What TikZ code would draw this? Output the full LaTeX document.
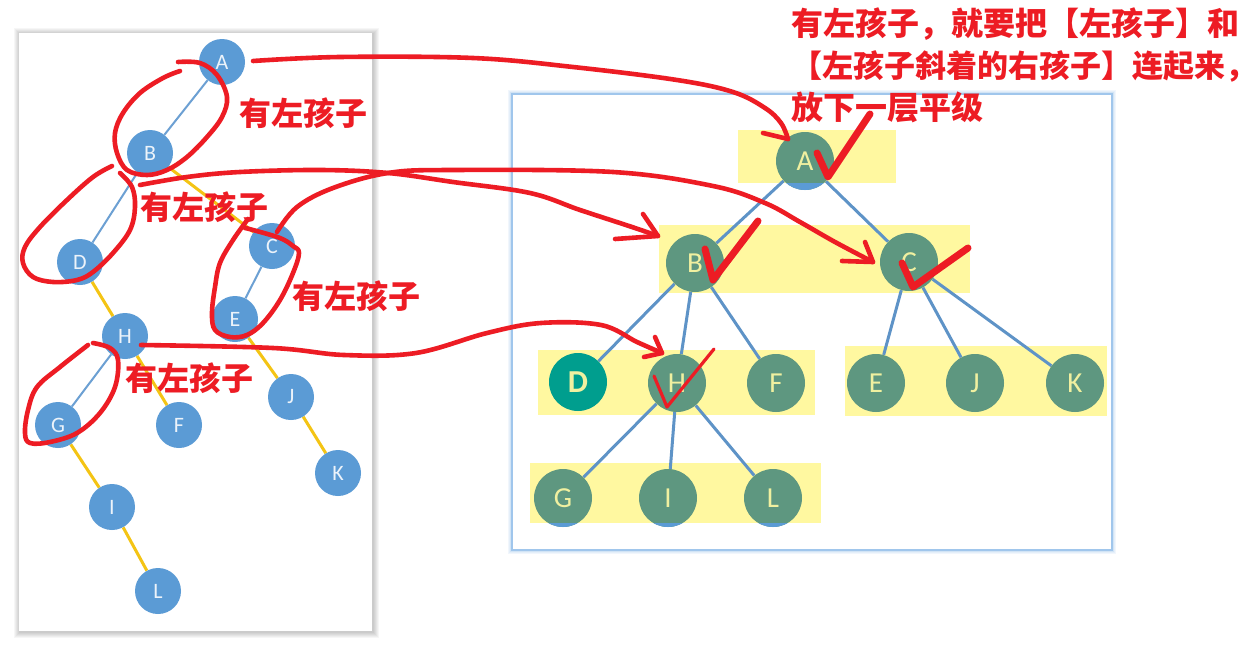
\documentclass[tikz,border=0pt]{standalone}
\usepackage{fontspec}
\setmainfont{Carlito}
\newfontfamily\cjk{Noto Sans CJK SC}
\definecolor{lblue}{RGB}{91,155,213}
\definecolor{ltext}{RGB}{236,243,250}
\definecolor{ledgeblue}{RGB}{108,160,211}
\definecolor{ledgeyellow}{RGB}{244,196,20}
\definecolor{rgreen}{RGB}{94,151,128}
\definecolor{rtext}{RGB}{240,240,160}
\definecolor{redgeblue}{RGB}{94,147,199}
\definecolor{hyellow}{RGB}{255,248,160}
\definecolor{dteal}{RGB}{0,158,142}
\definecolor{hred}{RGB}{237,28,36}
\definecolor{panelblue}{RGB}{160,198,236}
\pgfdeclarelayer{bgg}
\pgfdeclarelayer{bg}
\pgfsetlayers{bgg,bg,main}
\tikzset{
  lnode/.style={circle, fill=lblue, minimum size=46pt, inner sep=0pt, text=ltext, font=\fontsize{22}{22}\selectfont},
  rnode/.style={circle, fill=rgreen, minimum size=58pt, inner sep=0pt, text=rtext, font=\fontsize{29}{29}\selectfont},
  dnode/.style={circle, fill=dteal, minimum size=58pt, inner sep=0pt, text=rtext, font=\bfseries\fontsize{32}{32}\selectfont},
  lbl/.style={line width=2pt, draw=ledgeblue},
  lyl/.style={line width=3pt, draw=ledgeyellow},
  redge/.style={line width=3pt, draw=redgeblue},
  hbox/.style={fill=hyellow},
  redline/.style={draw=hred, line width=4.6pt, line cap=round, line join=round},
  checkmark/.style={draw=hred, line width=7pt, line cap=round, line join=round},
  redtext/.style={font=\cjk\bfseries\fontsize{32}{32}\selectfont, text=hred, inner sep=0pt},
}
\begin{document}
\begin{tikzpicture}[x=1pt,y=-1pt]
\useasboundingbox (0,0) rectangle (1258,645);
\begin{pgfonlayer}{bgg}
\fill[white] (0,0) rectangle (1258,645);
% left panel shadow
\foreach \i in {1,...,6} {
  \fill[black, opacity=0.035] ({19-\i+1},{33-\i+1}) rectangle ({372+\i+1},{631+\i+1});
}
\fill[white] (19,33) rectangle (372,631);
% right panel glow
\foreach \i in {1,...,5} {
  \draw[panelblue, opacity=0.14, line width=\i*1.6pt] (512,94) rectangle (1112,550);
}
\fill[white] (512,94) rectangle (1112,550);
\draw[panelblue, line width=1.6pt] (512,94) rectangle (1112,550);
% yellow highlight bands
\fill[hbox] (738,130) rectangle (896,183);
\fill[hbox] (659,225) rectangle (970,293);
\fill[hbox] (538,350) rectangle (815,415);
\fill[hbox] (845,346) rectangle (1107,416);
\fill[hbox] (530,463) rectangle (821,523);
\end{pgfonlayer}

% left tree
\node[lnode] (lA) at (222,62) {A};
\node[lnode] (lB) at (150,153) {B};
\node[lnode] (lC) at (272,246) {C};
\node[lnode] (lD) at (80,262) {D};
\node[lnode] (lE) at (235,319) {E};
\node[lnode] (lH) at (125,336) {H};
\node[lnode] (lG) at (58,425) {G};
\node[lnode] (lF) at (179,425) {F};
\node[lnode] (lJ) at (291,397) {J};
\node[lnode] (lK) at (338,473) {K};
\node[lnode] (lI) at (112,507) {I};
\node[lnode] (lL) at (158,591) {L};

% right tree
\node[rnode] (rA) at (805,161) {A};
\node[rnode] (rB) at (695,263) {B};
\node[rnode] (rC) at (909,262) {C};
\node[dnode] (rD) at (578,382) {D};
\node[rnode] (rH) at (677,383) {H};
\node[rnode] (rF) at (776,383) {F};
\node[rnode] (rE) at (876,383) {E};
\node[rnode] (rJ) at (975,383) {J};
\node[rnode] (rK) at (1075,383) {K};
\node[rnode] (rG) at (563,498) {G};
\node[rnode] (rI) at (668,498) {I};
\node[rnode] (rL) at (773,498) {L};

% blue parts of nodes outside the yellow bands
\begin{scope}
  \clip (700,183) rectangle (900,200);
  \fill[lblue] (rA.center) circle (29pt);
\end{scope}
\begin{scope}
  \clip (520,523) rectangle (830,540);
  \fill[lblue] (rG.center) circle (29pt);
  \fill[lblue] (rI.center) circle (29pt);
  \fill[lblue] (rL.center) circle (29pt);
\end{scope}

\begin{pgfonlayer}{bg}
\draw[lbl] (lA) -- (lB);
\draw[lbl] (lB) -- (lD);
\draw[lyl] (lB) -- (lC);
\draw[lbl] (lC) -- (lE);
\draw[lyl] (lD) -- (lH);
\draw[lyl] (lE) -- (lJ);
\draw[lyl] (lJ) -- (lK);
\draw[lbl] (lH) -- (lG);
\draw[lyl] (lH) -- (lF);
\draw[lyl] (lG) -- (lI);
\draw[lyl] (lI) -- (lL);

\draw[redge] (rA) -- (rB);
\draw[redge] (rA) -- (rC);
\draw[redge] (rB) -- (rD);
\draw[redge] (rB) -- (rH);
\draw[redge] (rB) -- (rF);
\draw[redge] (rC) -- (rE);
\draw[redge] (rC) -- (rJ);
\draw[redge] (rC) -- (rK);
\draw[redge] (rH) -- (rG);
\draw[redge] (rH) -- (rI);
\draw[redge] (rH) -- (rL);
\end{pgfonlayer}

% red loops
\draw[redline] plot[smooth, tension=0.6] coordinates {(178,62) (200,63) (217,75) (227,97) (222,117) (207,137) (187,157) (167,170) (147,175) (127,170) (117,153) (115,133) (123,113) (140,93) (163,78) (180,71)};
\draw[redline] plot[smooth, tension=0.6] coordinates {(112,166) (93,177) (67,200) (40,227) (25,247) (23,263) (33,277) (53,282) (77,280) (93,272) (113,253) (130,230) (135,207) (132,187) (120,173)};
\draw[redline] plot[smooth, tension=0.6] coordinates {(248,219) (233,240) (220,263) (215,287) (212,313) (215,330) (230,337) (247,335) (263,323) (280,300) (293,273) (299,253) (293,246) (280,238) (253,230) (245,228)};
\draw[redline] plot[smooth, tension=0.6] coordinates {(88,345) (60,367) (37,387) (28,410) (25,433) (30,443) (50,442) (77,433) (100,413) (115,387) (118,360) (110,348) (93,343)};

% red arrows
\coordinate (tA) at (788,139);
\coordinate (tB) at (658,236);
\coordinate (tC) at (873,262);
\coordinate (tH) at (662,353);
\draw[redline] plot[smooth, tension=0.6] coordinates {(253,61) (340,57) (473,58) (573,67) (677,80) (733,92) (765,108) (781,123) (tA)};
\draw[redline] (763,133) -- (tA);
\draw[redline] plot[smooth, tension=0.6] coordinates {(140,185) (187,177) (240,172) (320,170) (388,173) (453,182) (530,193) (580,210) (632,227) (tB)};
\draw[redline] (643,214) -- (tB) -- (615,239);
\draw[redline] plot[smooth, tension=0.6] coordinates {(277,232) (297,207) (333,188) (388,173) (453,170) (613,172) (713,186) (765,203) (800,222) (835,242) (tC)};
\draw[redline] (865,242) -- (tC) -- (842,261);
\draw[redline] plot[smooth, tension=0.6] coordinates {(141,345) (273,348) (344,355) (416,353) (487,333) (541,323) (601,325) (637,342) (tH)};
\draw[redline] (655,337) -- (tH) -- (644,357);

% check marks
\draw[checkmark] (817,153) -- (828,177) -- (870,114);
\draw[checkmark] (705,249) -- (713,280) -- (758,221);
\draw[checkmark] (902,263) -- (913,287) -- (968,248);
\draw[checkmark, line width=3.2pt] (654,376) -- (667,407) -- (714,349);

% annotation texts
\node[redtext] (t1) at (303,113) {有左孩子};
\node[redtext] (t2) at (204,207) {有左孩子};
\node[redtext] (t3) at (356,296) {有左孩子};
\node[redtext] (t4) at (189,378) {有左孩子};
\node[redtext, anchor=west] (n1) at (791,24) {有左孩子，就要把【左孩子】和};
\node[redtext, anchor=west, font=\cjk\bfseries\fontsize{31}{31}\selectfont] (n2) at (791,66) {【左孩子斜着的右孩子】连起来，};
\node[redtext, anchor=west] (n3) at (791,107) {放下一层平级};
\end{tikzpicture}
\end{document}
